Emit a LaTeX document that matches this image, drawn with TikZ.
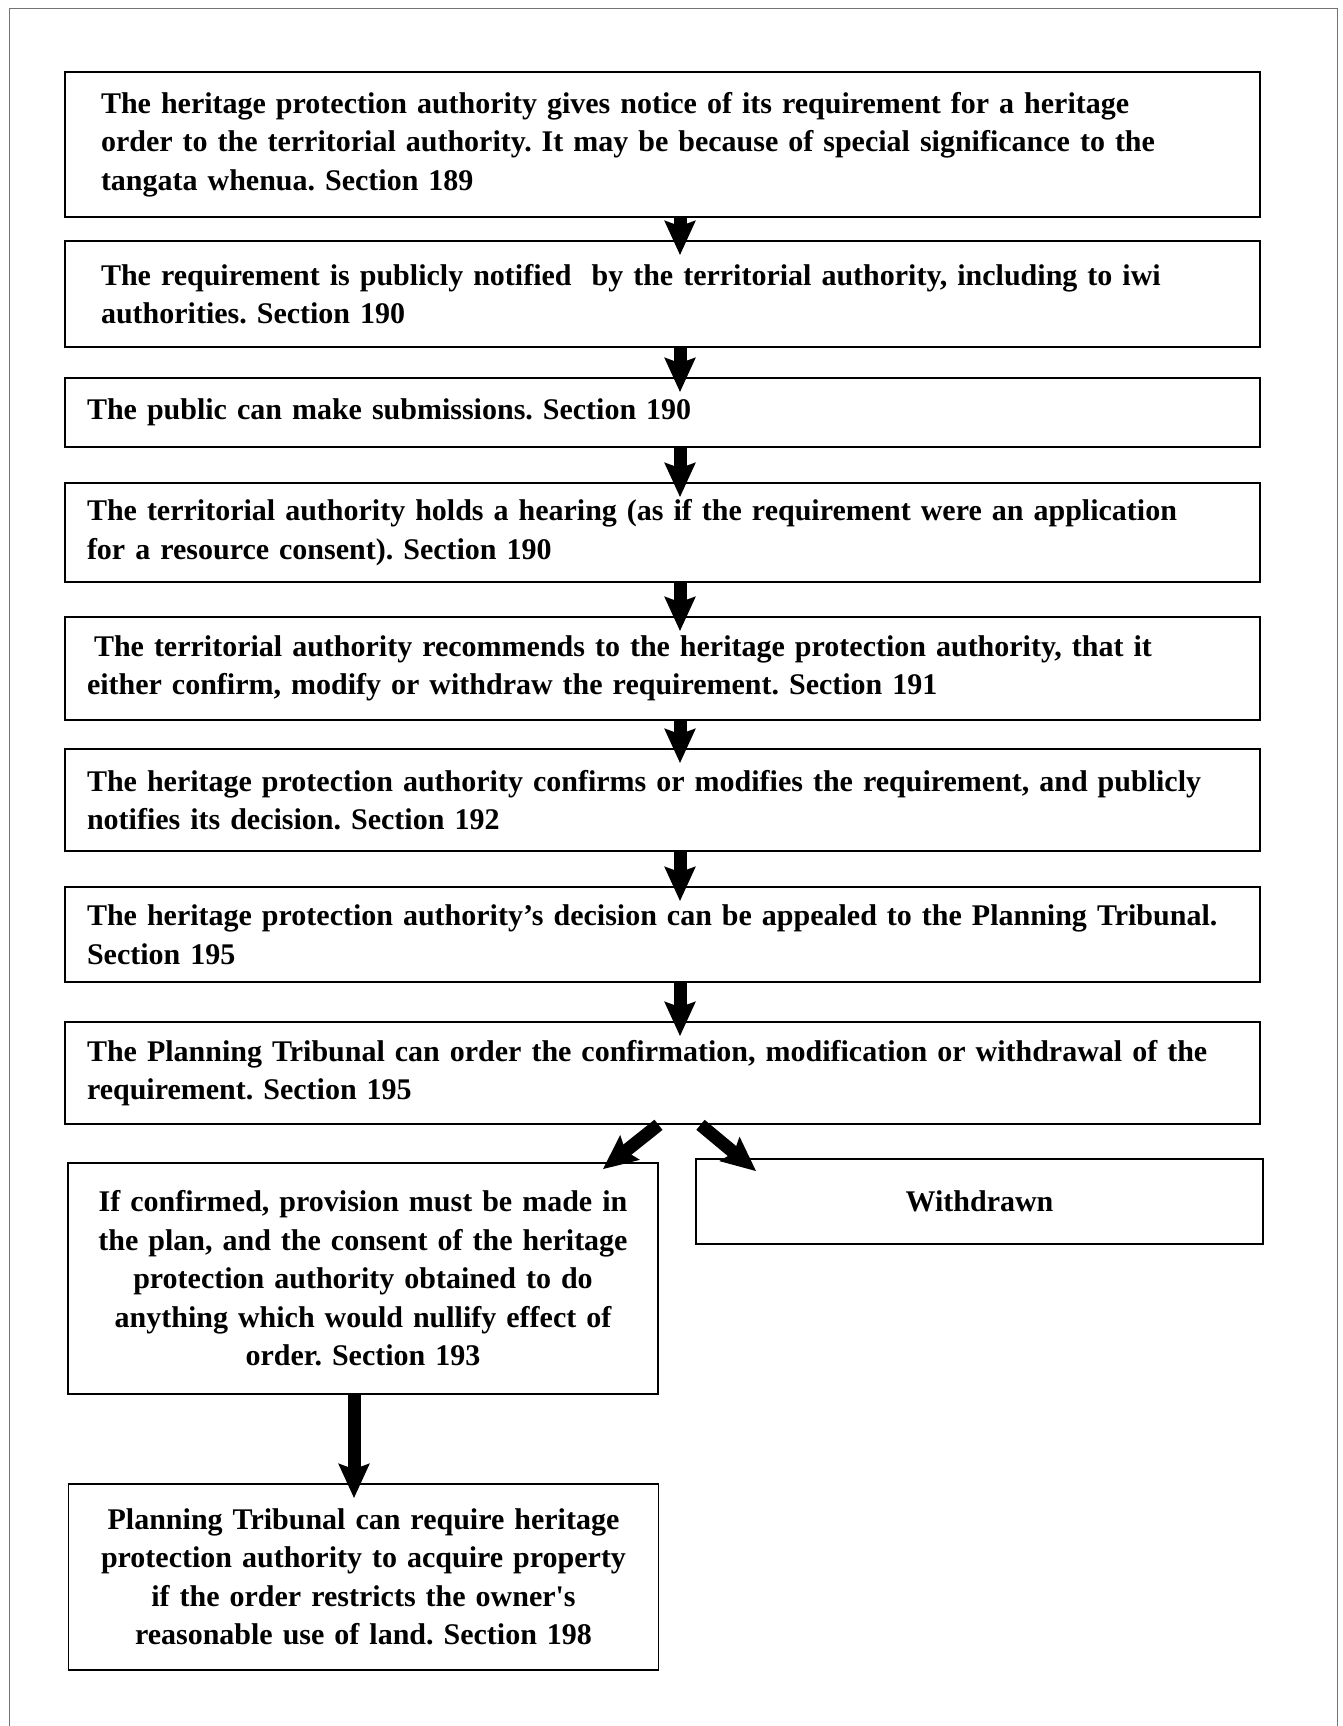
\documentclass[tikz,border=0pt]{standalone}
\usepackage{fontspec}
\setmainfont{Liberation Serif}
\usetikzlibrary{arrows.meta}

\begin{document}
\begin{tikzpicture}[
    x=1pt, y=-1pt,
    font=\fontsize{30}{38.5}\selectfont\bfseries\frenchspacing,
    stage/.style={
        draw=black,
        line width=1.6pt,
        minimum width=1195pt,
        inner xsep=22pt,
        text width=1151pt,
        align=left
    },
    side/.style={
        draw=black,
        line width=1.6pt,
        minimum width=590pt,
        inner xsep=20pt,
        text width=550pt,
        align=center
    },
    arr/.style={
        -{Stealth[length=34pt,width=30pt,inset=5pt]},
        line width=13pt,
        shorten >=-15pt
    }
]
\useasboundingbox (0,0) rectangle (1342,1726);
\draw[black!55, line width=0.8pt] (9,1726) -- (9,8) -- (1337,8) -- (1337,1726);

\coordinate (spine) at (680,0);
\coordinate (drop) at (354,0);

\node[stage, minimum height=145pt, inner xsep=36pt, text width=1123pt] (notice) at (662.5,144.5)
{The heritage protection authority gives notice of its requirement for a heritage\\
order to the territorial authority. It may be because of special significance to the\\
tangata whenua. Section 189};

\node[stage, minimum height=106pt, inner xsep=36pt, text width=1123pt] (notified) at (662.5,294)
{The requirement is publicly notified~ by the territorial authority, including to iwi\\
authorities. Section 190};

\node[stage, minimum height=69pt] (submit) at (662.5,412.5)
{The public can make submissions. Section 190};

\node[stage, minimum height=99pt] (hearing) at (662.5,532.5)
{The territorial authority holds a hearing (as if the requirement were an application\\
for a resource consent). Section 190};

\node[stage, minimum height=103pt] (recommend) at (662.5,668.5)
{\hspace*{7pt}The territorial authority recommends to the heritage protection authority, that it\\
either confirm, modify or withdraw the requirement. Section 191};

\node[stage, minimum height=102pt] (decision) at (662.5,800)
{The heritage protection authority confirms or modifies the requirement, and publicly\\
notifies its decision. Section 192};

\node[stage, minimum height=95pt] (appeal) at (662.5,934.5)
{The heritage protection authority’s decision can be appealed to the Planning Tribunal.\\
Section 195};

\node[stage, minimum height=102pt] (tribunal) at (662.5,1073)
{The Planning Tribunal can order the confirmation, modification or withdrawal of the\\
requirement. Section 195};

\node[side, minimum height=231pt] (confirmed) at (363,1278.5)
{If confirmed, provision must be made in\\
the plan, and the consent of the heritage\\
protection authority obtained to do\\
anything which would nullify effect of\\
order. Section 193};

\node[side, minimum width=567pt, text width=527pt, minimum height=85pt] (withdrawn) at (979.5,1201.5)
{Withdrawn};

\node[side, minimum height=186pt] (acquire) at (363.5,1577)
{Planning Tribunal can require heritage\\
protection authority to acquire property\\
if the order restricts the owner\textquotesingle s\\
reasonable use of land. Section 198};

\draw[arr] (notice.south -| spine) -- (notified.north -| spine);
\draw[arr] (notified.south -| spine) -- (submit.north -| spine);
\draw[arr] (submit.south -| spine) -- (hearing.north -| spine);
\draw[arr] (hearing.south -| spine) -- (recommend.north -| spine);
\draw[arr] (recommend.south -| spine) -- (decision.north -| spine);
\draw[arr] (decision.south -| spine) -- (appeal.north -| spine);
\draw[arr] (appeal.south -| spine) -- (tribunal.north -| spine);
\draw[arr, shorten >=0pt] ([xshift=-4pt]tribunal.south) -- ([xshift=-56pt,yshift=-7pt]confirmed.north east);
\draw[arr, shorten >=0pt] ([xshift=38pt]tribunal.south) -- ([xshift=61pt,yshift=-13pt]withdrawn.north west);
\draw[arr] (confirmed.south -| drop) -- (acquire.north -| drop);

\end{tikzpicture}
\end{document}
